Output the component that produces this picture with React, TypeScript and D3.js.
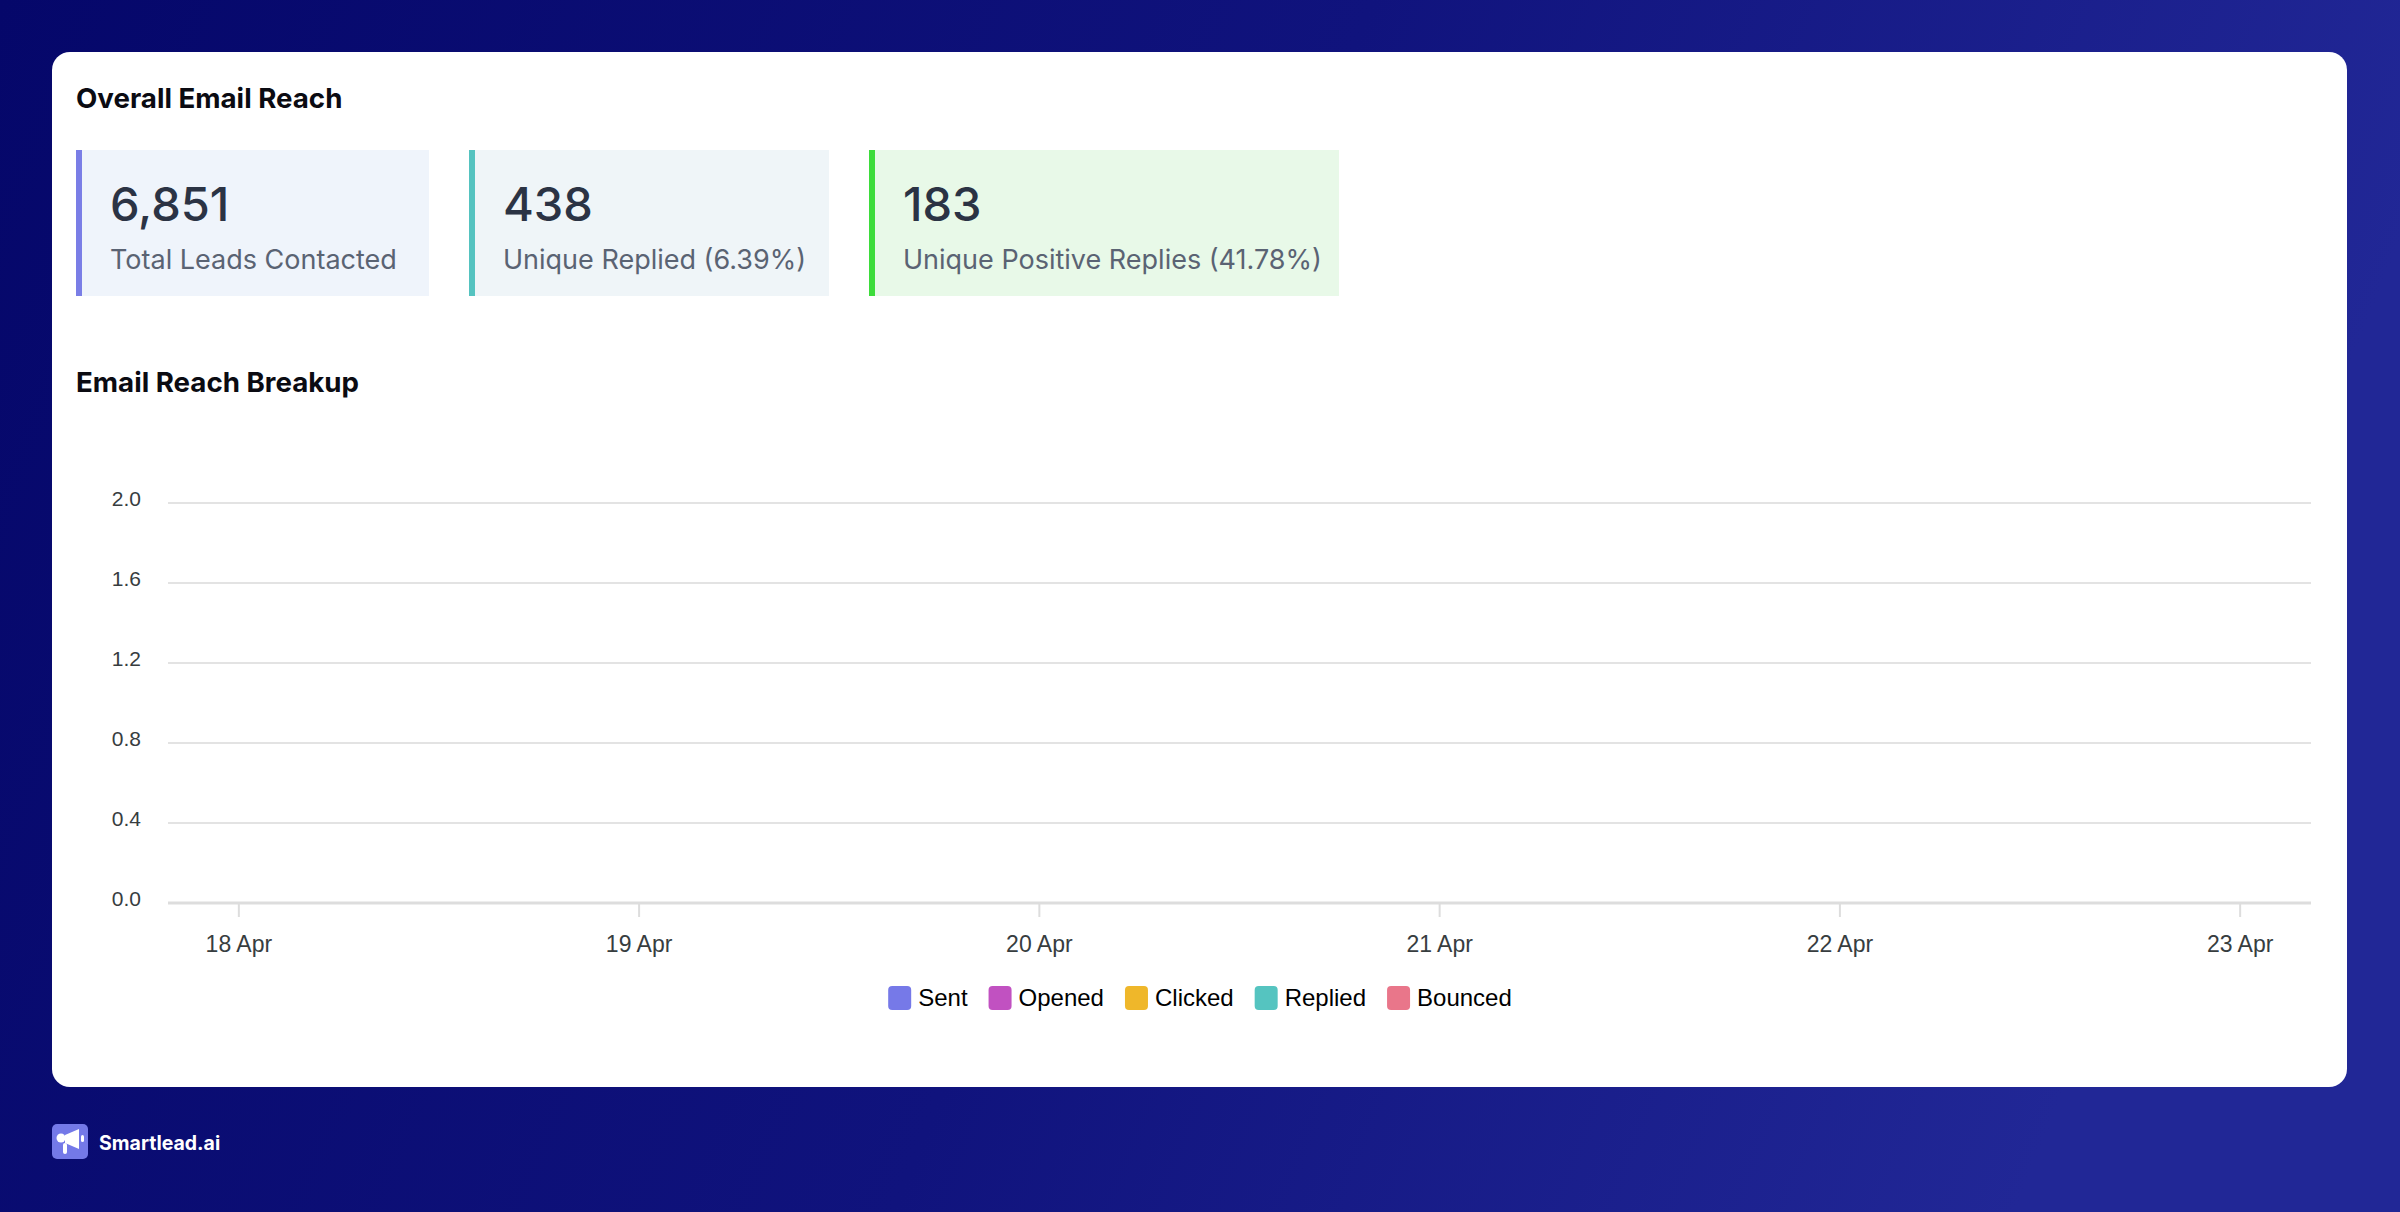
import React, { useEffect, useRef } from "react";
import * as d3 from "d3";

const W = 2400;
const H = 1212;

// ---- data ----
const statValues = ["6,851", "438", "183"];
const statLabels = ["Total Leads Contacted", "Unique Replied (6.39%)", "Unique Positive Replies (41.78%)"];
const dates = ["18 Apr", "19 Apr", "20 Apr", "21 Apr", "22 Apr", "23 Apr"];
const seriesNames = ["Sent", "Opened", "Clicked", "Replied", "Bounced"];
const sentValues = [0, 0, 0, 0, 0, 0];
const openedValues = [0, 0, 0, 0, 0, 0];
const clickedValues = [0, 0, 0, 0, 0, 0];
const repliedValues = [0, 0, 0, 0, 0, 0];
const bouncedValues = [0, 0, 0, 0, 0, 0];
const yTicks = [0, 0.4, 0.8, 1.2, 1.6, 2.0];

const seriesColors = ["#7679e8", "#c151c1", "#efb72a", "#55c4c0", "#e9768a"];
const statBorder = ["#7a7ee6", "#55c3c0", "#3ddc3b"];
const statBg = ["#eff4fb", "#eff5f8", "#e8f9e8"];

export default function App() {
  const ref = useRef<SVGSVGElement | null>(null);

  useEffect(() => {
    const svg = d3.select(ref.current);
    svg.selectAll("*").remove();

    const defs = svg.append("defs");
    const grad = defs
      .append("linearGradient")
      .attr("id", "bg")
      .attr("x1", 0)
      .attr("y1", 0)
      .attr("x2", 1)
      .attr("y2", 0.2);
    grad.append("stop").attr("offset", "0%").attr("stop-color", "#05076a");
    grad.append("stop").attr("offset", "55%").attr("stop-color", "#10137d");
    grad.append("stop").attr("offset", "100%").attr("stop-color", "#212796");

    svg.append("rect").attr("width", W).attr("height", H).attr("fill", "url(#bg)");

    // card
    svg
      .append("rect")
      .attr("x", 52)
      .attr("y", 52)
      .attr("width", 2295)
      .attr("height", 1035)
      .attr("rx", 18)
      .attr("fill", "#ffffff");

    const headFont = "Inter, 'DejaVu Sans', sans-serif";
    svg
      .append("text")
      .attr("x", 76)
      .attr("y", 108)
      .attr("font-family", headFont)
      .attr("font-weight", 700)
      .attr("font-size", 27.7)
      .attr("fill", "#0b0b12")
      .text("Overall Email Reach");

    // stat boxes
    const boxX = [76, 469, 869];
    const boxW = [353, 360, 470];
    statValues.forEach((v, i) => {
      const g = svg.append("g").attr("transform", `translate(${boxX[i]},150)`);
      g.append("rect").attr("width", boxW[i]).attr("height", 146).attr("fill", statBg[i]);
      g.append("rect").attr("width", 6).attr("height", 146).attr("fill", statBorder[i]);
      g.append("text")
        .attr("x", 34)
        .attr("y", 221 - 150)
        .attr("font-family", headFont)
        .attr("font-weight", 500)
        .attr("font-size", 47)
        .attr("fill", "#2b3344")
        .text(v);
      g.append("text")
        .attr("x", 34)
        .attr("y", 269 - 150)
        .attr("font-family", headFont)
        .attr("font-weight", 400)
        .attr("font-size", 27)
        .attr("fill", "#5a6373")
        .text(statLabels[i]);
    });

    svg
      .append("text")
      .attr("x", 76)
      .attr("y", 392)
      .attr("font-family", headFont)
      .attr("font-weight", 700)
      .attr("font-size", 27.7)
      .attr("fill", "#0b0b12")
      .text("Email Reach Breakup");

    // chart
    const left = 168;
    const right = 2311;
    const top = 503;
    const bottom = 903;
    const x = d3.scalePoint<string>().domain(dates).range([left, right]).padding(0.177);
    const y = d3.scaleLinear().domain([0, 2]).range([bottom, top]);
    const chartFont = "'Liberation Sans', Arial, Helvetica, sans-serif";

    const grid = svg.append("g");
    yTicks.forEach((t) => {
      if (t === 0) return;
      grid
        .append("line")
        .attr("x1", left)
        .attr("x2", right)
        .attr("y1", y(t))
        .attr("y2", y(t))
        .attr("stroke", "#e3e3e3")
        .attr("stroke-width", 2);
    });
    yTicks.forEach((t) => {
      svg
        .append("text")
        .attr("x", 141)
        .attr("y", y(t) - 4)
        .attr("dy", "0.35em")
        .attr("text-anchor", "end")
        .attr("font-family", chartFont)
        .attr("font-size", 21)
        .attr("fill", "#373d3f")
        .text(t.toFixed(1));
    });

    // series bars (all zero)
    const allSeries = [sentValues, openedValues, clickedValues, repliedValues, bouncedValues];
    const inner = d3.scaleBand<number>().domain(d3.range(allSeries.length)).range([-40, 40]).padding(0.1);
    allSeries.forEach((vals, si) => {
      svg
        .append("g")
        .selectAll("rect")
        .data(vals)
        .join("rect")
        .attr("x", (_, i) => (x(dates[i]) as number) + (inner(si) as number))
        .attr("y", (d) => y(d))
        .attr("width", inner.bandwidth())
        .attr("height", (d) => y(0) - y(d))
        .attr("fill", seriesColors[si]);
    });

    // x axis
    svg
      .append("line")
      .attr("x1", left)
      .attr("x2", right)
      .attr("y1", bottom)
      .attr("y2", bottom)
      .attr("stroke", "#dddddd")
      .attr("stroke-width", 3);
    dates.forEach((dt) => {
      const xx = x(dt) as number;
      svg
        .append("line")
        .attr("x1", xx)
        .attr("x2", xx)
        .attr("y1", bottom)
        .attr("y2", 917)
        .attr("stroke", "#dddddd")
        .attr("stroke-width", 2);
      svg
        .append("text")
        .attr("x", xx)
        .attr("y", 944)
        .attr("dy", "0.35em")
        .attr("text-anchor", "middle")
        .attr("font-family", chartFont)
        .attr("font-size", 23)
        .attr("fill", "#373d3f")
        .text(dt);
    });

    // legend
    const lg = svg.append("g");
    let cx = 0;
    seriesNames.forEach((n, i) => {
      const g = lg.append("g");
      g.append("rect")
        .attr("x", 0)
        .attr("y", -12)
        .attr("width", 23)
        .attr("height", 24)
        .attr("rx", 4)
        .attr("fill", seriesColors[i]);
      const t = g
        .append("text")
        .attr("x", 30)
        .attr("y", 0)
        .attr("dy", "0.35em")
        .attr("font-family", chartFont)
        .attr("font-size", 24)
        .attr("fill", "#000000")
        .text(n);
      const tw = (t.node() as SVGTextElement).getComputedTextLength();
      g.attr("transform", `translate(${cx},998)`);
      cx += 30 + tw + 21;
    });
    const total = cx - 21;
    lg.attr("transform", `translate(${1200 - total / 2},0)`);

    // logo
    const logo = svg.append("g").attr("transform", "translate(52,1124)");
    logo.append("rect").attr("width", 36).attr("height", 35).attr("rx", 5).attr("fill", "#7479e8");
    logo.append("circle").attr("cx", 9).attr("cy", 14).attr("r", 4.5).attr("fill", "#ffffff");
    logo.append("path").attr("d", "M13 11 L27 5 L27 25 L13 19 Z").attr("fill", "#ffffff");
    logo.append("rect").attr("x", 11).attr("y", 19).attr("width", 4).attr("height", 11).attr("rx", 2).attr("fill", "#ffffff");
    logo.append("rect").attr("x", 29).attr("y", 11).attr("width", 3).attr("height", 7).attr("rx", 1.5).attr("fill", "#ffffff");
    svg
      .append("text")
      .attr("x", 99)
      .attr("y", 1143)
      .attr("dy", "0.35em")
      .attr("font-family", headFont)
      .attr("font-weight", 700)
      .attr("font-size", 19.5)
      .attr("fill", "#ffffff")
      .text("Smartlead.ai");
  }, []);

  return (
    <div style={{ position: "absolute", left: 0, top: 0 }}>
      <svg ref={ref} width={W} height={H} style={{ display: "block" }} />
    </div>
  );
}
